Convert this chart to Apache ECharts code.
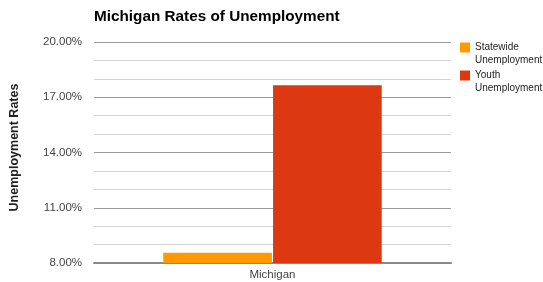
<!DOCTYPE html>
<html>
<head>
<meta charset="utf-8">
<script src="https://cdn.jsdelivr.net/npm/echarts@6/dist/echarts.min.js"></script>
<style>
    html, body { margin: 0; padding: 0; background: #fff; }
    #chart { width: 543px; height: 282px; }
</style>
</head>
<body>
<div id="chart"></div>
<script>
    var categories = ['Michigan'];
    var statewide = [8.55];
    var youth = [17.65];
    var seriesNames = ['Statewide Unemployment', 'Youth Unemployment'];
    var yTicks = [8, 11, 14, 17, 20];

    var chart = echarts.init(document.getElementById('chart'));

    var option = {
        animation: false,
        title: {
            text: 'Michigan Rates of Unemployment',
            left: 89,
            top: 4,
            textStyle: {
                fontFamily: 'Liberation Sans, Arial',
                fontSize: 15.3,
                fontWeight: 'bold',
                color: '#000'
            }
        },
        legend: {
            orient: 'vertical',
            left: 460,
            top: 28,
            padding: 0,
            itemWidth: 10,
            itemHeight: 10,
            itemGap: -11,
            icon: 'rect',
            align: 'left',
            // leading blank line keeps the icon level with the first text line
            formatter: function(name) {
                return '\n' + name.replace(' ', '\n');
            },
            textStyle: {
                fontFamily: 'Liberation Sans, Arial',
                fontSize: 10,
                color: '#222',
                lineHeight: 13
            }
        },
        grid: {
            left: 93,
            right: 92,
            top: 42,
            bottom: 19,
            containLabel: false
        },
        xAxis: {
            type: 'category',
            data: categories,
            axisTick: { show: false },
            axisLine: { lineStyle: { color: '#888', width: 2 } },
            axisLabel: {
                fontFamily: 'Liberation Sans, Arial',
                fontSize: 11.5,
                color: '#444',
                margin: 6
            }
        },
        yAxis: {
            type: 'value',
            min: yTicks[0],
            max: yTicks[yTicks.length - 1],
            interval: 3,
            name: 'Unemployment Rates',
            nameLocation: 'middle',
            nameGap: 73,
            nameTextStyle: {
                fontFamily: 'Liberation Sans, Arial',
                fontSize: 12.5,
                fontWeight: 'bold',
                color: '#222',
                padding: [0, 0, 0, 10]
            },
            axisLine: { show: false },
            axisTick: { show: false },
            axisLabel: {
                fontFamily: 'Liberation Sans, Arial',
                fontSize: 11.5,
                color: '#444',
                margin: 12,
                formatter: function(v) { return v.toFixed(2) + '%'; }
            },
            splitLine: { lineStyle: { color: '#999', width: 1 } },
            minorTick: { show: false, splitNumber: 3 },
            minorSplitLine: { show: true, lineStyle: { color: '#d4d4d4', width: 1 } }
        },
        series: [{
            name: seriesNames[0],
            type: 'bar',
            data: statewide,
            itemStyle: { color: '#ff9900' },
            barGap: '1%',
            barCategoryGap: '38.8%'
        }, {
            name: seriesNames[1],
            type: 'bar',
            data: youth,
            itemStyle: { color: '#dc3912' },
            barGap: '1%',
            barCategoryGap: '38.8%'
        }]
    };

    chart.setOption(option);
</script>
</body>
</html>
